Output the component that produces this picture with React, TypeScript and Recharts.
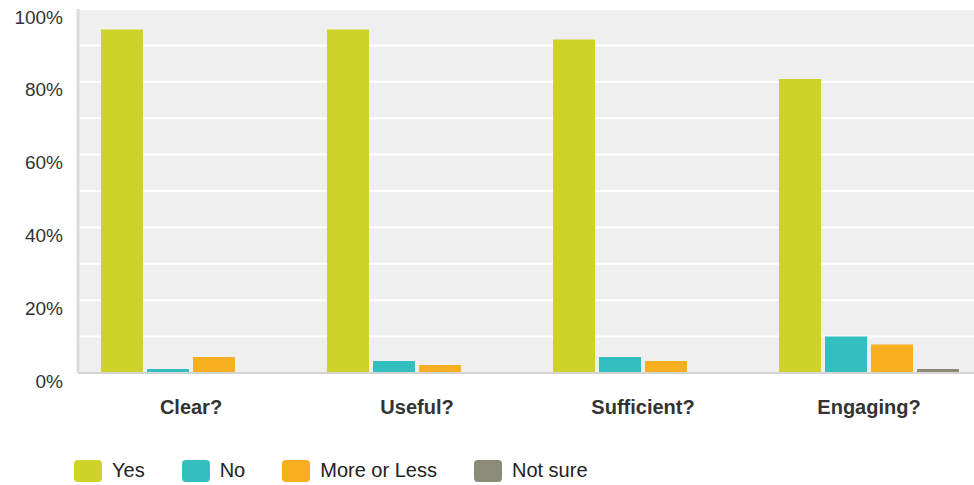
import { BarChart, Bar, XAxis, YAxis, CartesianGrid, Legend } from "recharts"

const categories = ["Clear?", "Useful?", "Sufficient?", "Engaging?"]

const yes = [94.4, 94.4, 91.6, 80.8]
const no = [1.1, 3.3, 4.4, 10]
const moreOrLess = [4.4, 2.2, 3.3, 7.8]
const notSure = [0, 0, 0, 1.1]

const yTicks = [0, 10, 20, 30, 40, 50, 60, 70, 80, 90, 100]

const series = [
  { key: "yes", name: "Yes", color: "#cfd329" },
  { key: "no", name: "No", color: "#33bec0" },
  { key: "more", name: "More or Less", color: "#f7ae1f" },
  { key: "notSure", name: "Not sure", color: "#8b8b78" }
]

const data = categories.map((name, i) => ({
  name,
  yes: yes[i],
  no: no[i],
  more: moreOrLess[i],
  notSure: notSure[i]
}))

const font = "'Liberation Sans', Arial, sans-serif"

function YTick(props: any) {
  const { x, y, payload } = props
  if (payload.value % 20 !== 0) return null
  return (
    <text
      x={x - 7}
      y={y + 8}
      textAnchor="end"
      dominantBaseline="central"
      fontSize={19}
      fontFamily={font}
      fill="#333"
    >
      {payload.value}%
    </text>
  )
}

function XTick(props: any) {
  const { x, y, payload } = props
  return (
    <text
      x={x}
      y={y + 26}
      textAnchor="middle"
      dominantBaseline="central"
      fontSize={20}
      fontWeight="bold"
      fontFamily={font}
      fill="#333"
    >
      {payload.value}
    </text>
  )
}

function LegendContent() {
  return (
    <div
      style={{
        display: "flex",
        alignItems: "center",
        paddingLeft: 74,
        paddingTop: 26,
        fontFamily: font,
        fontSize: 20,
        color: "#222"
      }}
    >
      {series.map((s) => (
        <div
          key={s.key}
          style={{ display: "flex", alignItems: "center", marginRight: 37 }}
        >
          <span
            style={{
              width: 28,
              height: 22,
              borderRadius: 4,
              background: s.color,
              marginRight: 10,
              display: "inline-block"
            }}
          />
          <span>{s.name}</span>
        </div>
      ))}
    </div>
  )
}

export default function App() {
  return (
    <div
      style={{
        position: "absolute",
        left: 0,
        top: 0,
        width: 974,
        height: 485,
        overflow: "hidden",
        background: "#fff"
      }}
    >
      <BarChart
        width={982}
        height={485}
        data={data}
        margin={{ top: 9, right: 0, left: 0, bottom: 0 }}
        barSize={42}
        barGap={4}
      >
        <CartesianGrid
          vertical={false}
          fill="#efefef"
          stroke="#ffffff"
          strokeWidth={2}
        />
        <XAxis
          dataKey="name"
          height={60}
          tickLine={false}
          axisLine={{ stroke: "#d4d4d4", strokeWidth: 2 }}
          tick={<XTick />}
          interval={0}
        />
        <YAxis
          width={78}
          domain={[0, 100]}
          ticks={yTicks}
          interval={0}
          tickLine={false}
          axisLine={{ stroke: "#dcdcdc", strokeWidth: 3 }}
          tick={<YTick />}
        />
        <Legend
          verticalAlign="bottom"
          height={52}
          content={<LegendContent />}
          wrapperStyle={{ left: 0, bottom: 0, width: 974, height: 52 }}
        />
        {series.map((s) => (
          <Bar
            key={s.key}
            dataKey={s.key}
            name={s.name}
            fill={s.color}
            isAnimationActive={false}
          />
        ))}
      </BarChart>
    </div>
  )
}
